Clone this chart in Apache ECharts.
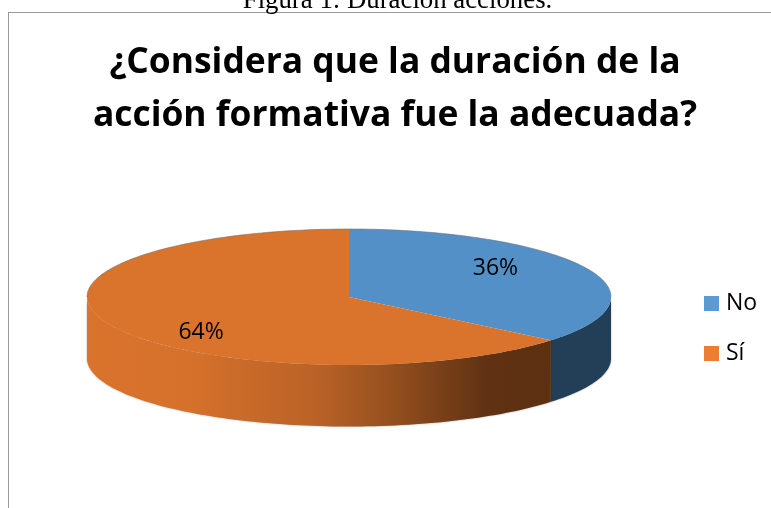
<!DOCTYPE html>
<html>
<head>
<meta charset="utf-8">
<style>
  html,body{margin:0;padding:0;background:#fff;overflow:hidden}
  #chart{width:771px;height:508px}
</style>
</head>
<body>
<div id="chart"></div>
<script src="https://cdn.jsdelivr.net/npm/echarts@6/dist/echarts.min.js"></script>
<script>
const categories = ['No', 'Sí']
const values = [36, 64]
const caption = 'Figura 1: Duración acciones.'
const chartTitle = '¿Considera que la duración de la\nacción formativa fue la adecuada?'

const legendColors = ['#5B9BD5', '#ED7D31']
const topColors = ['#5490C8', '#DA732C']

// geometria del disco
const cx = 349, cy = 297, rx = 262, ry = 68, depth = 61.5
const labelRx = 162.7, labelRy = 75
const total = values.reduce((a, b) => a + b, 0)

function pointAt(deg, dy) {
  const rad = deg * Math.PI / 180
  return [cx + rx * Math.sin(rad), cy - ry * Math.cos(rad) + (dy || 0)]
}

function arc(from, to, dy) {
  const pts = []
  const n = Math.max(2, Math.ceil(Math.abs(to - from) / 1.5))
  for (let i = 0; i <= n; i++) {
    pts.push(pointAt(from + (to - from) * i / n, dy))
  }
  return pts
}

function sideFill(index, start, end) {
  if (index === 0) return '#233F58'
  // sombreado horizontal de la cara lateral naranja
  return {
    type: 'linear', global: true,
    x: pointAt(end)[0], y: 0, x2: pointAt(start)[0], y2: 0,
    colorStops: [
      { offset: 0, color: '#DA732C' },
      { offset: 0.22, color: '#D5712B' },
      { offset: 0.5, color: '#B96227' },
      { offset: 0.64, color: '#99521F' },
      { offset: 0.86, color: '#603213' },
      { offset: 1, color: '#5C3011' }
    ]
  }
}

function sliceRenderer(index) {
  const before = values.slice(0, index).reduce((a, b) => a + b, 0)
  const start = before / total * 360
  const end = (before + values[index]) / total * 360
  const mid = (start + end) / 2
  return function () {
    const children = []
    // cara lateral: solo la parte visible, de 90 a 270 grados
    const sideFrom = Math.max(start, 90)
    const sideTo = Math.min(end, 270)
    if (sideTo > sideFrom) {
      const top = arc(sideFrom, sideTo, 0)
      const bottom = arc(sideTo, sideFrom, depth)
      children.push({
        type: 'polygon',
        shape: { points: top.concat(bottom) },
        style: { fill: sideFill(index, sideFrom, sideTo), shadowBlur: 2, shadowColor: 'rgba(0,0,0,0.35)' }
      })
    }
    children.push({
      type: 'polygon',
      z2: 5,
      shape: { points: [[cx, cy]].concat(arc(start, end, 0)) },
      style: { fill: topColors[index] }
    })
    // borde gris fino en la parte trasera del disco
    ;[[0, 90], [270, 360]].forEach(function (range) {
      const a = Math.max(start, range[0])
      const b = Math.min(end, range[1])
      if (b > a) {
        children.push({
          type: 'polyline',
          z2: 6,
          shape: { points: arc(a, b, 0) },
          style: { fill: null, stroke: 'rgba(110,110,110,0.55)', lineWidth: 1 }
        })
      }
    })
    const rad = mid * Math.PI / 180
    children.push({
      type: 'text',
      z2: 10,
      style: {
        x: cx - 0.75 + labelRx * Math.sin(rad),
        y: cy + 3.5 - labelRy * Math.cos(rad),
        text: values[index] + '%',
        font: '23px "Open Sans"',
        fill: '#000',
        align: 'center',
        verticalAlign: 'middle'
      }
    })
    return { type: 'group', children: children }
  }
}

const chartInstance = echarts.init(document.getElementById('chart'), null, { renderer: 'canvas' })
const option = {
  animation: false,
  backgroundColor: '#fff',
  title: [
    {
      text: caption,
      left: 392.5, top: -18, textAlign: 'center',
      textStyle: { fontFamily: 'Liberation Serif', fontWeight: 'normal', fontSize: 26.8, color: '#000' }
    },
    {
      text: chartTitle,
      left: 390, top: 31, textAlign: 'center',
      textStyle: { fontFamily: 'Open Sans', fontWeight: 'bold', fontSize: 35.4, lineHeight: 53, color: '#000' }
    }
  ],
  legend: {
    orient: 'vertical',
    left: 699, top: 287,
    itemWidth: 15, itemHeight: 15, itemGap: 27,
    icon: 'rect',
    selectedMode: false,
    data: categories,
    textStyle: { fontFamily: 'Open Sans', fontSize: 23, color: '#000', padding: [0, 0, 0, 2] }
  },
  graphic: [
    { type: 'line', shape: { x1: 8, y1: 12.5, x2: 771, y2: 12.5 }, style: { stroke: '#999', lineWidth: 1 } },
    { type: 'line', shape: { x1: 8.5, y1: 12, x2: 8.5, y2: 508 }, style: { stroke: '#999', lineWidth: 1 } }
  ],
  series: categories.map((name, i) => ({
    type: 'custom',
    name: name,
    coordinateSystem: 'none',
    itemStyle: { color: legendColors[i] },
    renderItem: sliceRenderer(i),
    data: [values[i]]
  }))
}
chartInstance.setOption(option)
</script>
</body>
</html>
